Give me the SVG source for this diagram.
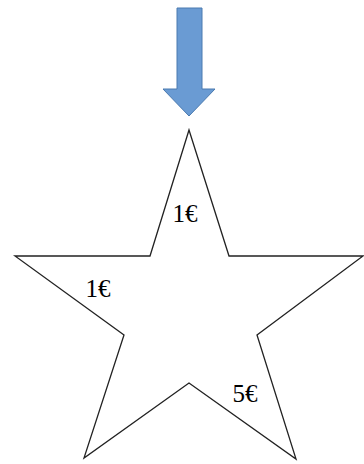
<svg xmlns="http://www.w3.org/2000/svg" width="364" height="464" viewBox="0 0 364 464">
<style>
.lbl{font-family:"Liberation Serif","Times New Roman",serif;font-size:25px;fill:#000;text-anchor:middle}
</style>
<rect width="364" height="464" fill="#fff"/>
<g id="arrow">
<polygon points="177,8 202,8 202,89 215,89 189,116 163,89 177,89" fill="#6a9bd3" stroke="#4a7ab0" stroke-width="1"/>
</g>
<g id="star">
<polygon points="189,130 229,256 363,256 257,335 296,459 189,383 84,458 124,335 15,256 150,256" fill="#fff" stroke="#222" stroke-width="1.3"/>
<text class="lbl" x="185" y="222">1€</text>
<text class="lbl" x="98" y="297">1€</text>
<text class="lbl" x="245" y="402">5€</text>
</g>
</svg>
